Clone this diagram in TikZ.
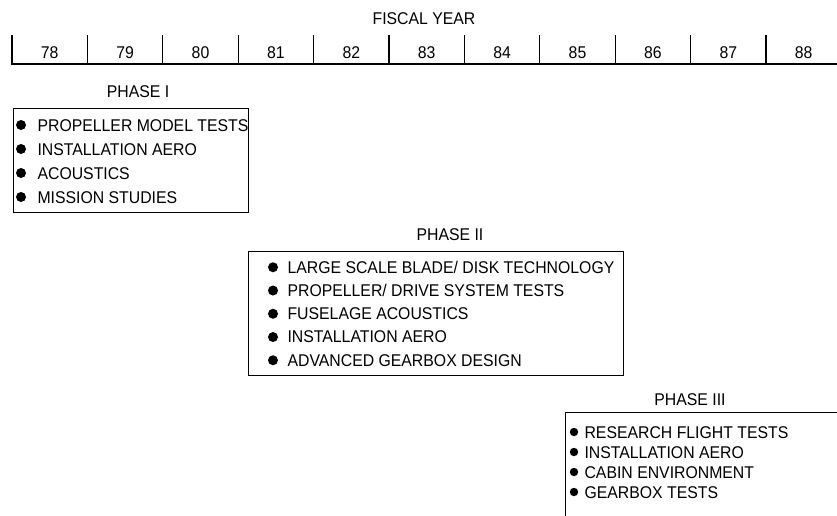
\documentclass[tikz,border=0pt]{standalone}
\usepackage{fontspec}
\setmainfont[FakeStretch=0.93]{Liberation Sans}
\usetikzlibrary{positioning}

\begin{document}
\begin{tikzpicture}[x=1pt, y=-1pt, line width=1.1pt,
    font=\fontsize{17}{20}\selectfont,
    phasebox/.style={draw, anchor=north west, inner sep=0pt},
    item/.style={anchor=base west, inner sep=0pt}]
  \clip (0,0) rectangle (837,515);
  % fiscal year scale
  \node (fy) at (424,19) {FISCAL YEAR};
  \coordinate (axl) at (12,64);
  \coordinate (axr) at (837,64);
  \draw (12,35) -- (axl) -- (axr);
  \foreach \yr [count=\k] in {78,...,88} {
    \draw (12+75.4*\k,35) -- (12+75.4*\k,64);
    \node (y\yr) at (12+75.4*\k-37.7,53) {\yr};
  }
  % phase I
  \node (ph1) at (138,92) {PHASE I};
  \node[phasebox, minimum width=235, minimum height=104] (box1) at (13,108) {};
  \foreach \t [count=\i] in {PROPELLER MODEL TESTS, INSTALLATION AERO,
      ACOUSTICS, MISSION STUDIES} {
    \fill (21,101+24*\i) circle (5pt);
    \node[item] (pa\i) at (37,107+24*\i) {\t};
  }
  % phase II
  \node (ph2) at (450,235) {PHASE II};
  \node[phasebox, minimum width=375, minimum height=124] (box2) at (248,251) {};
  \foreach \t [count=\i] in {LARGE SCALE BLADE/ DISK TECHNOLOGY,
      PROPELLER/ DRIVE SYSTEM TESTS, FUSELAGE ACOUSTICS,
      INSTALLATION AERO, ADVANCED GEARBOX DESIGN} {
    \fill (273,244+23.25*\i) circle (5pt);
    \node[item] (pb\i) at (287,249.75+23.25*\i) {\t};
  }
  % phase III (runs off the sheet)
  \node (ph3) at (690,400) {PHASE III};
  \node[phasebox, minimum width=300, minimum height=130] (box3) at (565,412) {};
  \foreach \t [count=\i] in {RESEARCH FLIGHT TESTS, INSTALLATION AERO,
      CABIN ENVIRONMENT, GEARBOX TESTS} {
    \fill (574,412+20*\i) circle (4.2pt);
    \node[item] (pc\i) at (584,418+20*\i) {\t};
  }
\end{tikzpicture}
\end{document}
